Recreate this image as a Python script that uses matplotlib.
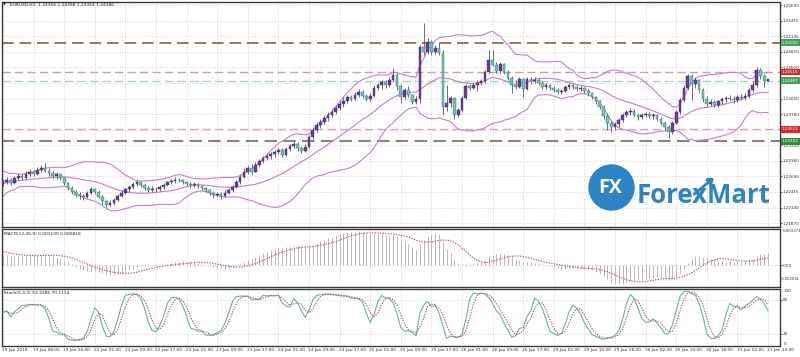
import numpy as np
import pandas as pd
import matplotlib
matplotlib.use("Agg")
import matplotlib.pyplot as plt
from matplotlib.patches import Ellipse, FancyArrowPatch

plt.rcParams['font.family'] = ['DejaVu Sans']

time_labels = ["19 Jan 2018", "19 Jan 08:00", "19 Jan 16:00", "22 Jan 01:00", "22 Jan 09:00",
               "22 Jan 17:00", "23 Jan 01:00", "23 Jan 09:00", "23 Jan 17:00", "24 Jan 01:00",
               "24 Jan 09:00", "24 Jan 17:00", "25 Jan 01:00", "25 Jan 09:00", "25 Jan 17:00",
               "26 Jan 01:00", "26 Jan 09:00", "26 Jan 17:00", "29 Jan 02:00", "29 Jan 10:00",
               "29 Jan 18:00", "30 Jan 02:00", "30 Jan 10:00", "30 Jan 18:00", "31 Jan 02:00",
               "31 Jan 10:00"]
price_ticks = [1.25690, 1.25415, 1.25145, 1.24870, 1.24600, 1.24050, 1.23780,
               1.23235, 1.22960, 1.22690, 1.22415, 1.22140, 1.21870]
grid_prices = [1.25690, 1.25415, 1.25145, 1.24870, 1.24600, 1.24325, 1.24050, 1.23780,
               1.23505, 1.23235, 1.22960, 1.22690, 1.22415, 1.22140, 1.21870]
level_prices = [1.25033, 1.24515, 1.24367, 1.23513, 1.23302]

# H1 EURUSD candles, 19 Jan 00:00 .. 31 Jan 10:00
first_open = 1.2255
close = [1.2259, 1.2262, 1.2257, 1.2266, 1.2269, 1.2266, 1.2273, 1.2276, 1.2273, 1.2280,
         1.2283, 1.2278, 1.2275, 1.2269, 1.2273, 1.2266, 1.2257, 1.2248, 1.2241, 1.2236,
         1.2234, 1.2232, 1.2240, 1.2246, 1.2242, 1.2233, 1.2225, 1.2219, 1.2222, 1.2228,
         1.2235, 1.2240, 1.2246, 1.2250, 1.2255, 1.2258, 1.2254, 1.2248, 1.2245, 1.2247,
         1.2246, 1.2250, 1.2254, 1.2258, 1.2261, 1.2263, 1.2262, 1.2258, 1.2256, 1.2253,
         1.2255, 1.2251, 1.2248, 1.2244, 1.2240, 1.2236, 1.2238, 1.2235, 1.2240, 1.2245,
         1.2250, 1.2258, 1.2268, 1.2276, 1.2283, 1.2277, 1.2289, 1.2295, 1.2301, 1.2304,
         1.2308, 1.2312, 1.2315, 1.2306, 1.2316, 1.2322, 1.2326, 1.2318, 1.2314, 1.2320,
         1.2337, 1.2350, 1.2358, 1.2364, 1.2371, 1.2376, 1.2382, 1.2389, 1.2395, 1.2401,
         1.2407, 1.2404, 1.2411, 1.2417, 1.2410, 1.2404, 1.2410, 1.2424, 1.2429, 1.2434,
         1.2428, 1.2438, 1.2446, 1.2427, 1.2408, 1.2420, 1.2411, 1.2399, 1.2404, 1.2495,
         1.2487, 1.2504, 1.2487, 1.2494, 1.2485, 1.2390, 1.2397, 1.2406, 1.2376, 1.2385,
         1.2406, 1.2427, 1.2424, 1.2429, 1.2432, 1.2436, 1.2452, 1.2473, 1.2464, 1.2453,
         1.2466, 1.2452, 1.2441, 1.2429, 1.2425, 1.2439, 1.2422, 1.2439, 1.2436, 1.2438,
         1.2432, 1.2426, 1.2428, 1.2424, 1.2420, 1.2417, 1.2419, 1.2425, 1.2428, 1.2426,
         1.2422, 1.2424, 1.2418, 1.2414, 1.2408, 1.2400, 1.2390, 1.2375, 1.2362, 1.2355,
         1.2360, 1.2368, 1.2376, 1.2382, 1.2384, 1.2376, 1.2372, 1.2376, 1.2378, 1.2374,
         1.2376, 1.2370, 1.2362, 1.2356, 1.2346, 1.2362, 1.2382, 1.2403, 1.2424, 1.2445,
         1.2431, 1.2438, 1.2420, 1.2404, 1.2396, 1.2399, 1.2394, 1.2400, 1.2404, 1.2406,
         1.2405, 1.2402, 1.2408, 1.2406, 1.2410, 1.2420, 1.2428, 1.2455, 1.2445, 1.24356,
         1.24386]
high = [1.2264, 1.2268, 1.2266, 1.2269, 1.2275, 1.2273, 1.2278, 1.2282, 1.2280, 1.2285,
        1.2289, 1.2292, 1.2283, 1.2278, 1.2276, 1.2275, 1.2268, 1.2259, 1.2252, 1.2245,
        1.2241, 1.2238, 1.2243, 1.2250, 1.2249, 1.2245, 1.2236, 1.2228, 1.2227, 1.2231,
        1.2238, 1.2244, 1.2249, 1.2253, 1.2258, 1.2262, 1.2261, 1.2257, 1.2251, 1.2251,
        1.2250, 1.2253, 1.2257, 1.2261, 1.2264, 1.2267, 1.2266, 1.2264, 1.2261, 1.2259,
        1.2258, 1.2257, 1.2254, 1.2250, 1.2247, 1.2243, 1.2242, 1.2241, 1.2244, 1.2248,
        1.2254, 1.2262, 1.2273, 1.2283, 1.2289, 1.2290, 1.2294, 1.2299, 1.2304, 1.2310,
        1.2312, 1.2315, 1.2319, 1.2318, 1.2321, 1.2326, 1.2330, 1.2329, 1.2322, 1.2325,
        1.2341, 1.2356, 1.2364, 1.2369, 1.2376, 1.2381, 1.2387, 1.2394, 1.2400, 1.2407,
        1.2412, 1.2411, 1.2416, 1.2421, 1.2420, 1.2413, 1.2415, 1.2428, 1.2433, 1.2438,
        1.2438, 1.2443, 1.2459, 1.2450, 1.2431, 1.2424, 1.2427, 1.2413, 1.2410, 1.2499,
        1.2537, 1.2511, 1.2508, 1.2499, 1.2504, 1.2490, 1.2429, 1.2410, 1.2408, 1.2389,
        1.2410, 1.2431, 1.2431, 1.2432, 1.2438, 1.2439, 1.2455, 1.2490, 1.2490, 1.2469,
        1.2469, 1.2467, 1.2455, 1.2445, 1.2438, 1.2443, 1.2441, 1.2443, 1.2443, 1.2442,
        1.2441, 1.2435, 1.2432, 1.2431, 1.2427, 1.2423, 1.2422, 1.2428, 1.2432, 1.2431,
        1.2429, 1.2427, 1.2426, 1.2421, 1.2416, 1.2410, 1.2403, 1.2393, 1.2380, 1.2366,
        1.2364, 1.2371, 1.2379, 1.2385, 1.2388, 1.2386, 1.2379, 1.2379, 1.2381, 1.2381,
        1.2379, 1.2378, 1.2372, 1.2365, 1.2359, 1.2366, 1.2385, 1.2406, 1.2429, 1.2448,
        1.2448, 1.2443, 1.2439, 1.2424, 1.2410, 1.2404, 1.2403, 1.2403, 1.2407, 1.2410,
        1.2411, 1.2409, 1.2411, 1.2413, 1.2415, 1.2424, 1.2436, 1.2460, 1.2459, 1.2448,
        1.24398]
low = [1.2252, 1.2255, 1.2254, 1.2255, 1.2262, 1.2262, 1.2264, 1.2269, 1.2269, 1.2271,
       1.2276, 1.2276, 1.2269, 1.2266, 1.2264, 1.2262, 1.2254, 1.2245, 1.2238, 1.2232,
       1.2229, 1.2227, 1.2230, 1.2237, 1.2238, 1.2230, 1.2221, 1.2215, 1.2216, 1.2219,
       1.2225, 1.2232, 1.2237, 1.2242, 1.2246, 1.2251, 1.2250, 1.2245, 1.2241, 1.2242,
       1.2242, 1.2243, 1.2247, 1.2251, 1.2255, 1.2257, 1.2258, 1.2255, 1.2252, 1.2249,
       1.2250, 1.2248, 1.2245, 1.2241, 1.2236, 1.2231, 1.2232, 1.2229, 1.2232, 1.2237,
       1.2242, 1.2248, 1.2255, 1.2266, 1.2273, 1.2272, 1.2276, 1.2285, 1.2292, 1.2297,
       1.2299, 1.2303, 1.2308, 1.2302, 1.2304, 1.2313, 1.2318, 1.2314, 1.2309, 1.2311,
       1.2319, 1.2334, 1.2346, 1.2353, 1.2360, 1.2366, 1.2372, 1.2378, 1.2385, 1.2391,
       1.2398, 1.2400, 1.2402, 1.2408, 1.2406, 1.2400, 1.2401, 1.2408, 1.2420, 1.2422,
       1.2424, 1.2425, 1.2436, 1.2420, 1.2397, 1.2404, 1.2408, 1.2396, 1.2396, 1.2397,
       1.2481, 1.2483, 1.2481, 1.2483, 1.2481, 1.2376, 1.2383, 1.2390, 1.2369, 1.2373,
       1.2382, 1.2404, 1.2420, 1.2422, 1.2418, 1.2429, 1.2432, 1.2450, 1.2462, 1.2450,
       1.2450, 1.2448, 1.2438, 1.2415, 1.2422, 1.2424, 1.2408, 1.2420, 1.2431, 1.2432,
       1.2428, 1.2422, 1.2422, 1.2420, 1.2416, 1.2413, 1.2413, 1.2416, 1.2422, 1.2422,
       1.2418, 1.2418, 1.2414, 1.2410, 1.2404, 1.2396, 1.2386, 1.2370, 1.2350, 1.2347,
       1.2350, 1.2356, 1.2364, 1.2372, 1.2377, 1.2372, 1.2368, 1.2369, 1.2372, 1.2371,
       1.2370, 1.2366, 1.2358, 1.2350, 1.2336, 1.2343, 1.2360, 1.2378, 1.2399, 1.2420,
       1.2403, 1.2424, 1.2417, 1.2399, 1.2390, 1.2392, 1.2390, 1.2391, 1.2396, 1.2399,
       1.2400, 1.2397, 1.2399, 1.2402, 1.2403, 1.2406, 1.2417, 1.2425, 1.2439, 1.2425,
       1.24354]
# closes of the hours just before the visible window (indicator warm-up only, off-screen)
prior_close = [1.2205, 1.2198, 1.2210, 1.2215, 1.2208, 1.2222, 1.2230, 1.2226, 1.2238, 1.2245,
               1.2240, 1.2252, 1.2260, 1.2255, 1.2268, 1.2272, 1.2264, 1.2270, 1.2262, 1.2258,
               1.2265, 1.2260, 1.2252, 1.2258, 1.2262, 1.2255]

close = np.array(close)
high = np.array(high)
low = np.array(low)
opn = np.r_[first_open, close[:-1]]
n = len(close)
idx = np.arange(n)

# indicators (Bollinger 20/2, MACD 12/26/9, Stochastic 5/3/3), as the terminal computes them
npre = len(prior_close)
full = pd.Series(np.r_[prior_close, close])
mid = full.rolling(20).mean().values[npre:]
sd = full.rolling(20).std(ddof=0).values[npre:]
up, dn = mid + 2 * sd, mid - 2 * sd
macd_full = full.ewm(span=12, adjust=False).mean() - full.ewm(span=26, adjust=False).mean()
macd_sig = macd_full.rolling(9).mean().values[npre:]
macd = macd_full.values[npre:]
s = pd.Series(close)
hh = pd.Series(high).rolling(5, min_periods=1).max()
ll = pd.Series(low).rolling(5, min_periods=1).min()
k = 100 * (s - ll).rolling(3, min_periods=1).sum() / (hh - ll).rolling(3, min_periods=1).sum()
d = k.rolling(3, min_periods=1).mean()

W, H = 800, 357
fig = plt.figure(figsize=(8, 3.57), dpi=100)
fig.patch.set_facecolor('white')

def ax_px(x0, y0, x1, y1):
    return fig.add_axes([x0 / W, 1 - y1 / H, (x1 - x0) / W, (y1 - y0) / H])

ax = ax_px(2, 2, 780, 227)
axm = ax_px(2, 229, 780, 287)
axs = ax_px(2, 289, 780, 346)

px_per_bar = 3.825
xl = ((2 - 3) / px_per_bar, (780 - 3) / px_per_bar)
grid_kw = dict(color='#c8c8c8', lw=0.6, ls=(0, (1, 2)))
lab_fs = 3.0
lab_col = '#333333'
for a in (ax, axm, axs):
    a.set_xlim(*xl)
    for sp in a.spines.values():
        sp.set_color('#3c3c3c')
        sp.set_linewidth(1.0)
    a.set_xticks([])
    for i in range(0, n, 8):
        a.axvline(i, zorder=0, **grid_kw)
    a.yaxis.tick_right()
    a.tick_params(axis='y', length=1.5, width=0.5, pad=0.6, labelsize=lab_fs, colors=lab_col)

# main panel
ax.set_ylim(1.21800, 1.25743)
ax.set_yticks(price_ticks)
ax.set_yticklabels([f"{p:.5f}" for p in price_ticks])
for p in grid_prices:
    ax.axhline(p, zorder=0, **grid_kw)

for band in (up, mid, dn):
    ax.plot(idx, band, color='#c77cd0', lw=0.8, zorder=2)

bull = close >= opn
ax.vlines(idx, low, high, color='#6e6e6e', lw=0.7, zorder=3)
body_b = np.minimum(opn, close)
body_h = np.maximum(np.abs(close - opn), 0.00003)
ax.bar(idx[bull], body_h[bull], bottom=body_b[bull], width=0.7, color='#6b3a9e',
       edgecolor='#4a2a6a', lw=0.3, zorder=4)
ax.bar(idx[~bull], body_h[~bull], bottom=body_b[~bull], width=0.7, color='#64c8b6',
       edgecolor='#3f6f66', lw=0.3, zorder=4)

line_styles = [('#9a7a5c', 1.4), ('#c9a3a0', 1.0), ('#a9d3c6', 1.0), ('#d8a9b9', 1.0), ('#8c8476', 1.5)]
box_colors = ['#3ea35f', '#e0262b', '#3ea35f', '#e0262b', '#2f8f3c']
for p, (c, lw), bc in zip(level_prices, line_styles, box_colors):
    ax.axhline(p, color=c, lw=lw, ls=(0, (6, 3)), zorder=1)
    ax.text(1.0025, p, f"{p:.5f}", transform=ax.get_yaxis_transform(), fontsize=lab_fs,
            color='white', va='center', ha='left', clip_on=False, zorder=10,
            bbox=dict(boxstyle='square,pad=0.3', fc=bc, ec='none'))

# MACD panel
axm.set_ylim(-0.002014, 0.003374)
axm.vlines(idx, 0, macd, color='#b8b8b8', lw=0.7)
axm.plot(idx, macd_sig, color='#c0504d', lw=0.8, ls=(0, (1.2, 1.2)))
axm.set_yticks([0])
axm.set_yticklabels(['0.00'])
axm.axhline(0, zorder=0, **grid_kw)
tr = axm.get_yaxis_transform()
axm.text(1.003, 0.003374, "0.003374", transform=tr, fontsize=2.8, va='top', color=lab_col, clip_on=False)
axm.text(1.001, -0.002014 + 0.0007, "-0.002014", transform=tr, fontsize=2.6, va='center', color=lab_col, clip_on=False)
axm.text(0.003, 0.94, "MACD(12,26,9) 0.001139 0.000818", transform=axm.transAxes, fontsize=3.2,
         va='top', color='#222222')

# Stochastic panel
axs.set_ylim(-1.2, 99.4)
axs.plot(idx, k, color='#5fb8a6', lw=0.8, zorder=3)
axs.plot(idx, d, color='#c0504d', lw=0.8, ls=(0, (1.2, 1.2)), zorder=3)
axs.set_yticks([20, 80])
axs.set_yticklabels(['20', '80'])
for v in (20, 80):
    axs.axhline(v, zorder=0, **grid_kw)
tr = axs.get_yaxis_transform()
axs.text(1.005, 99.4, "100", transform=tr, fontsize=lab_fs, va='top', color=lab_col, clip_on=False)
axs.text(1.005, -1.2, "0", transform=tr, fontsize=lab_fs, va='bottom', color=lab_col, clip_on=False)
axs.text(0.002, 0.96, "Stoch(5,3,3) 53.3286 70.1114", transform=axs.transAxes, fontsize=3.2,
         va='top', color='#222222')

# time axis labels
for j, lab in enumerate(time_labels):
    axs.text(j * 8 - 0.2, -0.04, lab, transform=axs.get_xaxis_transform(), fontsize=3.1,
             va='top', ha='left', color=lab_col, clip_on=False)

# header
fig.text(3 / W, 1 - 5 / H, "\u25bc", fontsize=2.8, va='center', ha='left', color='#222222')
fig.text(10 / W, 1 - 5 / H, "EURUSD,H1  1.24356 1.24398 1.24354 1.24386", fontsize=3.2,
         va='center', ha='left', color='#222222')

# logo
blue = '#2b84c6'
circ = Ellipse((611.5 / W, 1 - 187.5 / H), 45 / W, 45 / H, transform=fig.transFigure,
               color=blue, zorder=20)
fig.patches.append(circ)
fig.text(610 / W, 1 - 188 / H, "FX", fontsize=14, color='white', fontweight='bold',
         ha='center', va='center', family='Open Sans', zorder=21)
fig.text(637 / W, 1 - 203 / H, "ForexMart", fontsize=18.5, color=blue, fontweight='bold',
         ha='left', va='baseline', family='Open Sans', zorder=21)
fig.add_artist(FancyArrowPatch((692 / W, 1 - 196 / H), (716 / W, 1 - 176 / H),
               transform=fig.transFigure, arrowstyle='-|>,head_length=3,head_width=2.2',
               color=blue, lw=2.0, zorder=22))

fig.savefig("out.png", dpi=100)
